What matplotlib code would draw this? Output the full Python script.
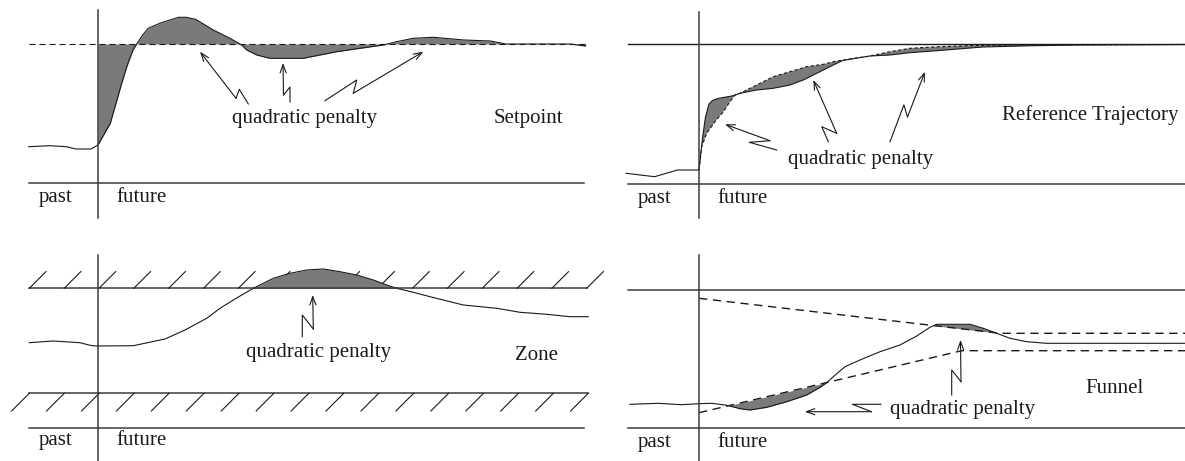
import numpy as np
import matplotlib
matplotlib.use("Agg")
import matplotlib.pyplot as plt

# canvas units are pixels of the 1185 x 461 sheet, y running downwards
W, H = 1185, 461
INK = "#1a1a1a"
AXIS = "#3c3c3c"
SHADE = "#7a7a7a"
FONT = ["Liberation Serif", "DejaVu Serif"]

# ---- panel 1: setpoint -------------------------------------------------
setpoint_level = 44
sp_x = [28.5, 49.4, 66.5, 76, 91, 98, 104.6, 110.3, 116, 121.7, 127.4, 133, 137.6,
        142.6, 148.3, 159.7, 170, 178.7, 186.3, 196, 213.3, 230, 241.7, 246.7,
        256.7, 270, 303.3, 320, 336.7, 360, 383.3, 396.7, 413.3, 433.3, 463.9,
        490.5, 505.7, 570.3, 585.6]
sp_y = [146.7, 145.7, 146.7, 149, 149, 145, 133.3, 123.3, 103.3, 83.3, 65, 50, 42.7,
        35, 28.3, 23.3, 20, 17.3, 17.3, 19.5, 30, 38.3, 45, 50,
        55, 58.3, 58.3, 55, 51.7, 48.3, 45, 41.7, 38.3, 37.3, 40,
        41, 44, 44, 46]

# ---- panel 2: reference trajectory ---------------------------------------
past2_x = [626, 654.6, 677.5, 699]
past2_y = [173.3, 176.7, 170, 170]
ref_x = [699, 701.7, 706.7, 715, 723.3, 730, 735, 740, 756.7, 773.3, 790, 806.7,
         823.3, 833.3, 843.3, 870, 890, 910, 933, 967, 1000, 1185]
ref_y = [170, 146.7, 133.3, 121.7, 111.7, 101.7, 95, 93.3, 85, 76.7, 71.7, 66.7,
         64.3, 61.7, 60, 56, 51.7, 48.3, 47, 45.7, 45, 44.5]
resp_x = [699, 702.5, 705.5, 709, 712.5, 718, 733.3, 740, 756.7, 773.3, 790, 803.3,
          816.7, 826.7, 836.7, 843.3, 870, 890, 910, 933, 983, 1033, 1080, 1185]
resp_y = [170, 138, 117, 104, 100.5, 98.5, 95.7, 93.3, 90, 88.3, 85, 80,
          73.3, 68.3, 63.3, 60.3, 56, 55, 52.7, 51, 47, 45.7, 45, 44.5]

# ---- panel 3: zone -----------------------------------------------------
zone_top, zone_bottom = 288.3, 393.3
zone_x = [29.3, 53.3, 80, 91.7, 98, 133.3, 165, 185, 206.7, 220, 235, 253.3, 273.3,
          290, 306.7, 323.3, 340, 356.7, 373.3, 386.7, 396.7, 413.3, 430, 463.3,
          496.7, 520, 546.7, 570, 588.3]
zone_y = [342.7, 341, 342.7, 345.7, 346, 345.7, 339, 330, 318.3, 308.3, 299, 288.3,
          278.3, 273.3, 270, 269, 271.7, 275, 280, 285, 288.3, 292.3, 296.7, 305,
          308.3, 312.3, 314.3, 316.7, 316.7]

# ---- panel 4: funnel ---------------------------------------------------
fun_x = [630, 658.4, 681, 699, 711.7, 727, 740, 750, 766.7, 786.7, 806.7, 820,
         826.7, 833.3, 845, 860, 880, 900, 916.7, 930, 936.7, 970, 983.3, 996.7,
         1010, 1026.7, 1046.7, 1185]
fun_y = [404.3, 403.3, 404.7, 403.7, 403.3, 405.3, 408.7, 410, 407.3, 401.7, 395,
         387.3, 382.7, 376.7, 366.7, 360, 351.7, 345, 336, 327.3, 324.3, 324.3,
         328.3, 333.3, 338.3, 341.7, 343.3, 343.3]
upper_x, upper_y = [699, 1000, 1185], [298.3, 333.3, 333.3]
lower_x, lower_y = [699, 961.7, 1185], [412.7, 350.7, 350.7]

# zig-zag pointers: tail, two kinks, head
pointers = [
    [(248.3, 104), (239.3, 89.3), (236, 98.3), (200, 51.7)],
    [(290, 102), (290, 87), (283.5, 95), (283, 63)],
    [(325, 100.7), (356.7, 80), (353.3, 93.3), (423.3, 51.7)],
    [(776.7, 150), (749.3, 142.3), (770, 140.7), (725, 124.3)],
    [(828.3, 141.7), (821.7, 126.7), (836.7, 133.3), (813.3, 80)],
    [(890, 141.7), (903.9, 104.9), (907.5, 117), (925, 71.7)],
    [(302.3, 336.7), (302.3, 315), (313.3, 329), (312.7, 295)],
    [(951.7, 395), (951.7, 370), (961, 381.7), (960.5, 340)],
    [(880.9, 404.3), (852.4, 404.3), (871.4, 411.7), (804.8, 411.7)],
]

labels = [
    (232, 118, "quadratic penalty"), (494, 118, "Setpoint"),
    (788, 159, "quadratic penalty"), (1002, 115, "Reference Trajectory"),
    (246, 352, "quadratic penalty"), (515, 355, "Zone"),
    (890, 409, "quadratic penalty"), (1085, 388, "Funnel"),
]


def frame(ax, x0, x1, vx, vtop, vbot, base_y, text_y):
    ax.plot([x0, x1], [base_y, base_y], color=AXIS, lw=1.1)
    ax.plot([vx, vx], [vtop, vbot], color=AXIS, lw=1.1)
    ax.text(x0 + 10, text_y, "past", family=FONT, fontsize=15, color=INK,
            ha="left", va="center")
    ax.text(vx + 18, text_y, "future", family=FONT, fontsize=15, color=INK,
            ha="left", va="center")


fig = plt.figure(figsize=(W / 100, H / 100), dpi=100)
ax = fig.add_axes([0, 0, 1, 1])
ax.set_xlim(0, W)
ax.set_ylim(H, 0)
ax.axis("off")

# setpoint panel
sx, sy = np.array(sp_x), np.array(sp_y)
ax.fill_between(sx, sy, setpoint_level, where=sx >= 98, interpolate=True,
                color=SHADE, lw=0)
ax.plot([28.5, 585.6], [setpoint_level] * 2, color=INK, lw=0.8,
        ls=(0, (5.5, 3.5)))
ax.plot(sx, sy, color=INK, lw=0.8)
frame(ax, 28.5, 584, 98, 10, 218, 183.5, 197)

# reference trajectory panel
ax.fill(np.r_[resp_x, ref_x[::-1]], np.r_[resp_y, ref_y[::-1]],
        color=SHADE, lw=0)
ax.plot([628, 1185], [44.5, 44.5], color=INK, lw=1.0)
ax.plot(ref_x, ref_y, color=INK, lw=0.8, ls=(0, (3, 2)))
ax.plot(resp_x, resp_y, color=INK, lw=0.8)
ax.plot(past2_x, past2_y, color=INK, lw=0.8)
frame(ax, 628, 1185, 699, 12, 218, 184, 198)

# zone panel: hatching first, the violation hump is painted over it
zx, zy = np.array(zone_x), np.array(zone_y)
for yb, x0, x1 in [(zone_top, 29.3, 586.7), (zone_bottom, 29.3, 588.3)]:
    ax.plot([x0, x1], [yb, yb], color=AXIS, lw=1.1)
for xh in np.linspace(29.3, 586.7, 17):
    ax.plot([xh, xh + 16.7], [zone_top, zone_top - 16.7], color=INK, lw=0.8)
for xh in np.linspace(29.3, 588.3, 17):
    ax.plot([xh, xh - 17.7], [zone_bottom, zone_bottom + 17.7], color=INK, lw=0.8)
ax.fill_between(zx, zy, zone_top, where=zy <= zone_top, interpolate=True,
                color=SHADE, lw=0, zorder=3)
ax.plot(zx, zy, color=INK, lw=0.8, zorder=4)
ax.plot([253.3, 396.7], [zone_top, zone_top], color=AXIS, lw=1.1, zorder=4)
frame(ax, 28.5, 584, 98, 255, 461, 428.3, 440)

# funnel panel
fx, fy = np.array(fun_x), np.array(fun_y)
up = np.interp(fx, upper_x, upper_y)
lo = np.interp(fx, lower_x, lower_y)
inside = fx >= 699
ax.fill_between(fx, fy, up, where=inside & (fy < up), interpolate=True,
                color=SHADE, lw=0)
ax.fill_between(fx, fy, lo, where=inside & (fy > lo), interpolate=True,
                color=SHADE, lw=0)
ax.plot([628, 1185], [290, 290], color=AXIS, lw=1.1)
ax.plot(upper_x, upper_y, color=INK, lw=1.0, ls=(0, (6, 4)))
ax.plot(lower_x, lower_y, color=INK, lw=1.0, ls=(0, (6, 4)))
ax.plot(fx, fy, color=INK, lw=0.8)
frame(ax, 628, 1185, 699, 255, 461, 428.3, 442)

# zig-zag pointers to the penalised areas
for pts in pointers:
    px = [p[0] for p in pts]
    py = [p[1] for p in pts]
    ax.plot(px[:3], py[:3], color=INK, lw=0.8)
    ax.annotate("", xy=pts[3], xytext=pts[2],
                arrowprops=dict(arrowstyle="->,head_length=0.6,head_width=0.22",
                                color=INK, lw=0.8, shrinkA=0, shrinkB=0))

for x, y, s in labels:
    ax.text(x, y, s, family=FONT, fontsize=15, color=INK, ha="left", va="center")

fig.savefig("out.png", dpi=100)
